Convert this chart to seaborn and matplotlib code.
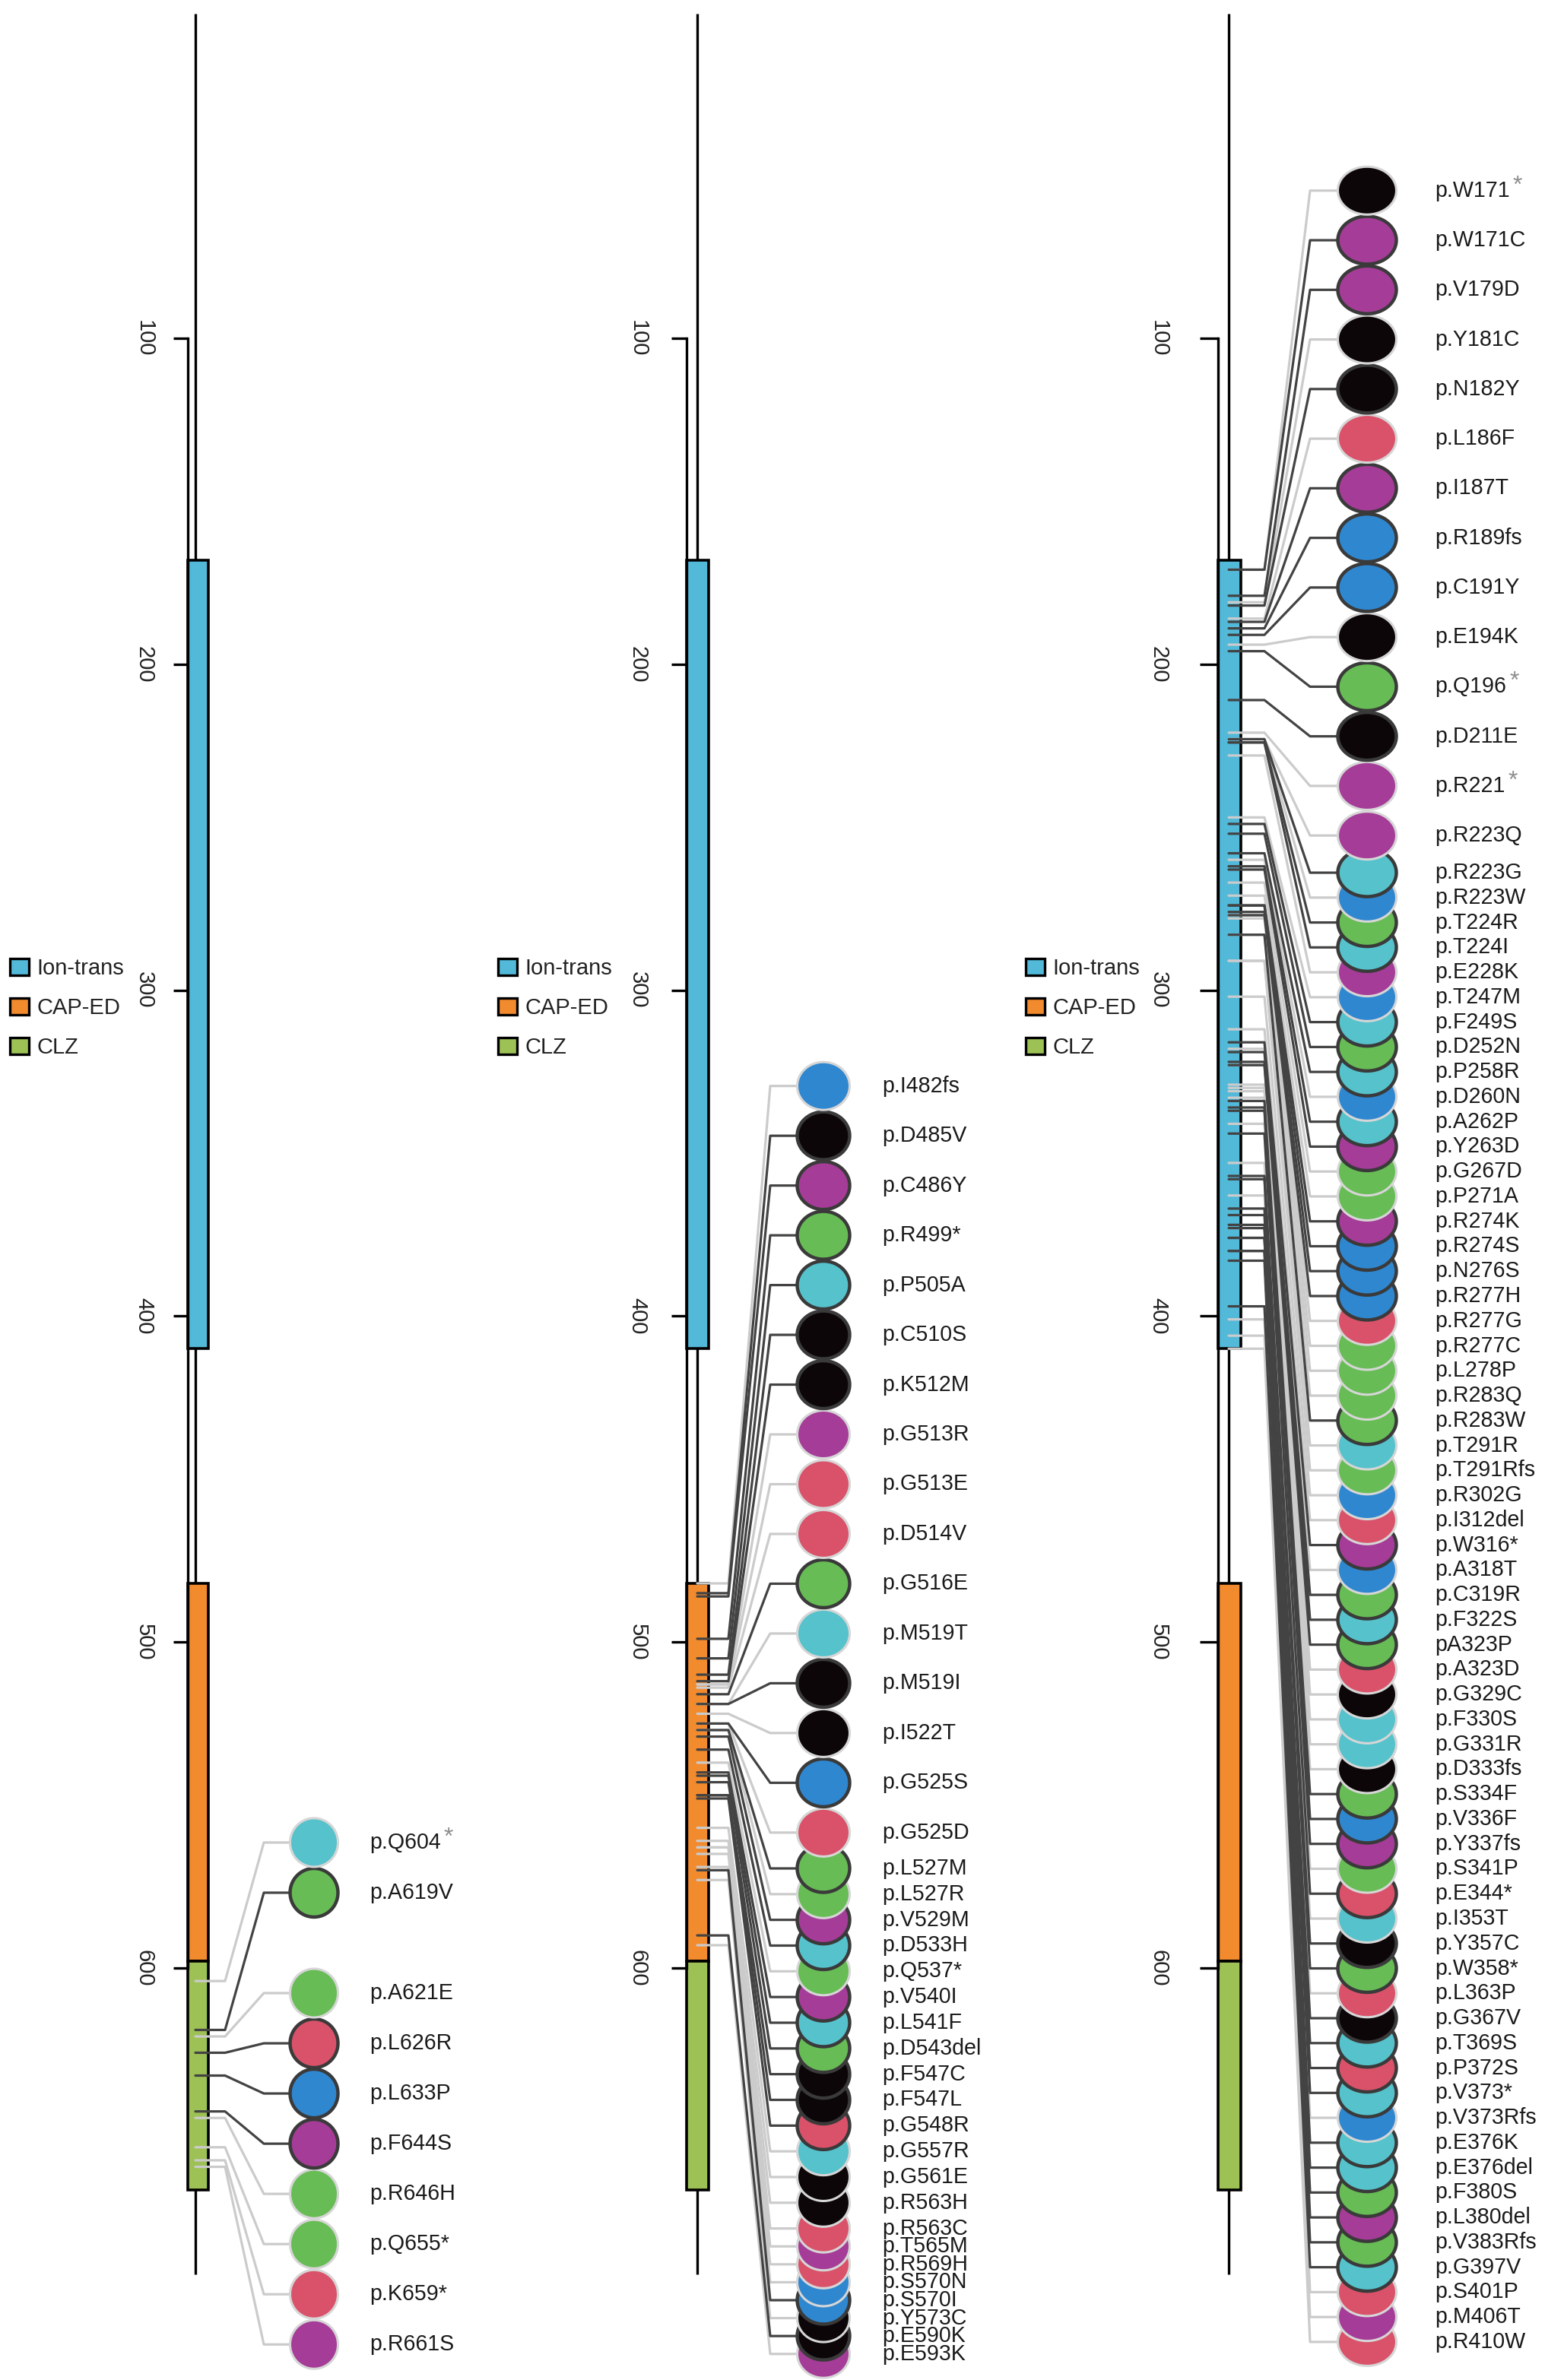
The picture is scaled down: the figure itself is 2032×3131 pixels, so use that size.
import re

import matplotlib.pyplot as plt
import numpy as np
import pandas as pd
import seaborn as sns
from matplotlib.patches import Patch
from matplotlib.path import Path

# protein (aa positions)
protein_length = 694
domain_names = ["Ion-trans", "CAP-ED", "CLZ"]
domain_start = [168, 482, 598]
domain_end = [410, 598, 668]
domain_colors = ["#52B9D9", "#F28A2E", "#9DC154"]
axis_ticks = [100, 200, 300, 400, 500, 600]

# panel 1
left_labels = ["p.Q604*", "p.A619V", "p.A621E", "p.L626R", "p.L633P", "p.F644S",
               "p.R646H", "p.Q655*", "p.K659*", "p.R661S"]
left_colour = ["c", "g", "g", "r", "b", "p", "g", "g", "r", "p"]
left_status = ["l", "d", "l", "d", "d", "d", "l", "l", "l", "l"]

# panel 2
mid_labels = ["p.I482fs", "p.D485V", "p.C486Y", "p.R499*", "p.P505A", "p.C510S", "p.K512M",
              "p.G513R", "p.G513E", "p.D514V", "p.G516E", "p.M519T", "p.M519I", "p.I522T",
              "p.G525S", "p.G525D", "p.L527M", "p.L527R", "p.V529M", "p.D533H", "p.Q537*",
              "p.V540I", "p.L541F", "p.D543del", "p.F547C", "p.F547L", "p.G548R", "p.G557R",
              "p.G561E", "p.R563H", "p.R563C", "p.T565M", "p.R569H", "p.S570N", "p.S570I",
              "p.Y573C", "p.E590K", "p.E593K"]
mid_colour = ["b", "k", "p", "g", "c", "k", "k", "p", "r", "r", "g", "c", "k", "k", "b", "r",
              "g", "g", "p", "c", "g", "p", "c", "g", "k", "k", "r", "c", "k", "k", "r", "p",
              "r", "b", "b", "k", "k", "p"]
mid_status = ["l", "d", "d", "d", "d", "d", "d", "l", "l", "l", "d", "l", "d", "l", "d", "l",
              "d", "l", "d", "d", "l", "d", "d", "d", "d", "d", "d", "l", "l", "l", "l", "l",
              "l", "l", "d", "l", "d", "l"]

# panel 3
right_labels = ["p.W171*", "p.W171C", "p.V179D", "p.Y181C", "p.N182Y", "p.L186F", "p.I187T",
                "p.R189fs", "p.C191Y", "p.E194K", "p.Q196*", "p.D211E", "p.R221*", "p.R223Q",
                "p.R223G", "p.R223W", "p.T224R", "p.T224I", "p.E228K", "p.T247M", "p.F249S",
                "p.D252N", "p.P258R", "p.D260N", "p.A262P", "p.Y263D", "p.G267D", "p.P271A",
                "p.R274K", "p.R274S", "p.N276S", "p.R277H", "p.R277G", "p.R277C", "p.L278P",
                "p.R283Q", "p.R283W", "p.T291R", "p.T291Rfs", "p.R302G", "p.I312del", "p.W316*",
                "p.A318T", "p.C319R", "p.F322S", "pA323P", "p.A323D", "p.G329C", "p.F330S",
                "p.G331R", "p.D333fs", "p.S334F", "p.V336F", "p.Y337fs", "p.S341P", "p.E344*",
                "p.I353T", "p.Y357C", "p.W358*", "p.L363P", "p.G367V", "p.T369S", "p.P372S",
                "p.V373*", "p.V373Rfs", "p.E376K", "p.E376del", "p.F380S", "p.L380del",
                "p.V383Rfs", "p.G397V", "p.S401P", "p.M406T", "p.R410W"]
right_colour = ["k", "p", "p", "k", "k", "r", "p", "b", "b", "k", "g", "k", "p", "p",
                "c", "b", "g", "c", "p", "b", "c", "g", "c", "b", "c", "p", "g", "g",
                "p", "b", "b", "b", "r", "g", "g", "g", "g", "c", "g", "b", "r", "p",
                "b", "g", "c", "g", "r", "k", "c", "c", "k", "g", "b", "p", "g", "r",
                "c", "k", "g", "r", "k", "c", "r", "c", "b", "c", "c", "g", "p", "g",
                "c", "r", "p", "r"]
right_status = ["l", "d", "d", "l", "d", "l", "d", "d", "d", "l", "d", "d", "l", "l",
                "d", "l", "d", "d", "l", "l", "d", "d", "d", "l", "d", "d", "l", "l",
                "d", "d", "d", "d", "l", "l", "l", "l", "d", "l", "l", "l", "l", "d",
                "l", "d", "d", "d", "l", "l", "l", "l", "l", "d", "d", "d", "l", "d",
                "l", "d", "d", "l", "d", "d", "d", "d", "l", "d", "d", "d", "d", "d",
                "d", "l", "l", "l"]

colour_hex = {"c": "#55C2CC", "g": "#67BC55", "r": "#D9526A", "b": "#2F87D0",
              "p": "#A53C97", "k": "#0C0609"}
edge_hex = {"d": "#3A3A3A", "l": "#D6D6D6"}
line_hex = {"d": "#434343", "l": "#CBCBCB"}
grey_star = {"p.Q604*", "p.W171*", "p.Q196*", "p.R221*"}


def slots(start, gaps):
    return start + np.concatenate([[0.0], np.cumsum(gaps)])


def ellipse(w, h):
    t = np.linspace(0, 2 * np.pi, 90)
    return Path(np.column_stack([w * np.cos(t), h * np.sin(t)]), closed=True)


panels = [
    dict(labels=left_labels, colour=left_colour, status=left_status,
         slot=slots(561.5, [15.4, 30.8] + [15.4] * 7),
         spine=246.5, rect_w=27, bx=257, h_end=296, d_end=347, dot_x=413, dot_w=63, dot_h=64,
         text_x=486, tick_len=7.0, pad=8.5, legend_x=13),
    dict(labels=mid_labels, colour=mid_colour, status=mid_status,
         slot=slots(329.4, [15.27] * 15 + [11.0] + [7.89] * 14 + [5.5] * 7),
         spine=903, rect_w=29, bx=917, h_end=958, d_end=1013, dot_x=1083, dot_w=69, dot_h=63,
         text_x=1160, tick_len=7.2, pad=11, legend_x=655),
    dict(labels=right_labels, colour=right_colour, status=right_status,
         slot=slots(54.7, [15.22] * 13 + [11.4] + [7.64] * 59),
         spine=1602, rect_w=30, bx=1616, h_end=1663, d_end=1723, dot_x=1798, dot_w=77, dot_h=63,
         text_x=1887, tick_len=8.6, pad=14.5, legend_x=1349),
]

sns.set_theme(style="white")
plt.rcParams["font.family"] = ["Liberation Sans", "DejaVu Sans"]

fig = plt.figure(figsize=(10.16, 15.655), dpi=200)

for pn in panels:
    ax = fig.add_axes([0, 0, 1, 1])
    ax.patch.set_alpha(0)
    ax.set_xlim(0, 2032)
    ax.set_ylim(726.4, -3.78)

    df = pd.DataFrame({"label": pn["labels"], "colour": pn["colour"],
                       "status": pn["status"], "slot": pn["slot"]})
    df["pos"] = [int(re.search(r"(\d+)", s).group(1)) for s in df["label"]]
    df["x"] = pn["dot_x"]

    # backbone + domains
    ax.plot([pn["bx"], pn["bx"]], [0.5, protein_length], color="black", lw=1.2,
            solid_capstyle="butt", zorder=1)
    ax.bar(x=pn["spine"] + pn["rect_w"] / 2,
           height=np.array(domain_end) - np.array(domain_start),
           bottom=domain_start, width=pn["rect_w"], color=domain_colors,
           edgecolor="black", linewidth=1.3, zorder=2)

    # connectors
    for st in ["l", "d"]:
        sub = df[df["status"] == st]
        for _, r in sub.iterrows():
            ax.plot([pn["bx"], pn["h_end"], pn["d_end"], pn["dot_x"]],
                    [r["pos"], r["pos"], r["slot"], r["slot"]],
                    color=line_hex[st], lw=1.15, zorder=3 if st == "l" else 4)

    # lollipop heads, upper ones drawn on top
    rev = df.iloc[::-1].reset_index(drop=True)
    size = (max(pn["dot_w"], pn["dot_h"]) * 72 / 200) ** 2
    sns.scatterplot(data=rev, x="x", y="slot", hue="colour", palette=colour_hex,
                    marker=ellipse(pn["dot_w"], pn["dot_h"]), s=size,
                    edgecolor=[edge_hex[s] for s in rev["status"]],
                    linewidth=[1.6 if s == "d" else 1.1 for s in rev["status"]],
                    legend=False, ax=ax, zorder=5)

    for _, r in df.iterrows():
        if r["label"] in grey_star:
            t = ax.text(pn["text_x"], r["slot"], r["label"][:-1], fontsize=10.3,
                        color="#1a1a1a", va="center", ha="left", zorder=6)
            ax.annotate("*", xy=(1, 0.72), xycoords=t, xytext=(1.5, 0),
                        textcoords="offset points", fontsize=11.5, color="#8c8c8c",
                        va="center", ha="left")
        else:
            ax.text(pn["text_x"], r["slot"], r["label"], fontsize=10.3,
                    color="#1a1a1a", va="center", ha="left", zorder=6)

    # protein axis
    for side in ["top", "right", "bottom"]:
        ax.spines[side].set_visible(False)
    ax.spines["left"].set_position(("data", pn["spine"]))
    ax.spines["left"].set_bounds(100, 600)
    ax.spines["left"].set_linewidth(1.2)
    ax.spines["left"].set_color("black")
    ax.set_xticks([])
    ax.set_yticks(axis_ticks)
    ax.tick_params(axis="y", left=True, length=pn["tick_len"], width=1.2, color="black",
                   pad=pn["pad"], labelsize=10.5, labelcolor="#222222", labelrotation=-90)
    for lab in ax.get_yticklabels():
        lab.set_va("center")
    ax.set_xlabel("")
    ax.set_ylabel("")

    handles = [Patch(facecolor=c, edgecolor="black", linewidth=1.2, label=n)
               for n, c in zip(domain_names, domain_colors)]
    ax.legend(handles=handles, loc="center left", bbox_to_anchor=(pn["legend_x"], 305.5),
              bbox_transform=ax.transData, frameon=False, fontsize=10.5,
              handlelength=0.85, handleheight=0.8, handletextpad=0.35, labelspacing=0.82,
              borderpad=0, borderaxespad=0, labelcolor="#222222")

fig.savefig("out.png", dpi=200)
